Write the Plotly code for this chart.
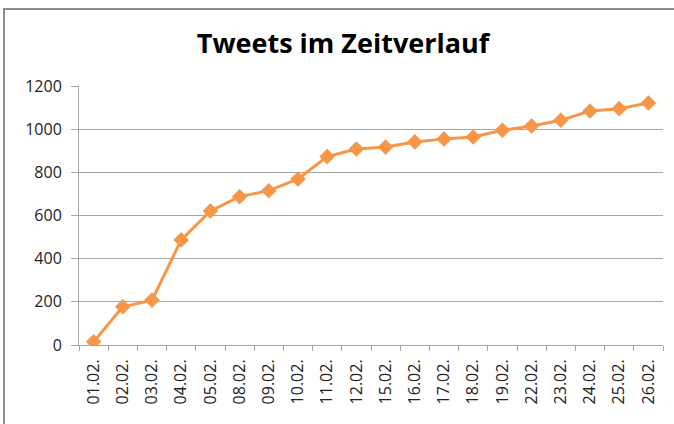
import plotly.graph_objects as go

dates = ["01.02.", "02.02.", "03.02.", "04.02.", "05.02.", "08.02.", "09.02.", "10.02.",
         "11.02.", "12.02.", "15.02.", "16.02.", "17.02.", "18.02.", "19.02.", "22.02.",
         "23.02.", "24.02.", "25.02.", "26.02."]
tweets = [15, 177, 208, 487, 621, 687, 715, 769, 873, 908, 917, 941, 955, 964, 995,
          1015, 1041, 1084, 1095, 1121]
y_ticks = [0, 200, 400, 600, 800, 1000, 1200]

W, H = 674, 424
L, R, T, B = 79, 11, 86, 79
pw, ph = W - L - R, H - T - B
FONT = "Open Sans, Lato, Liberation Sans, sans-serif"

fig = go.Figure()
fig.add_trace(go.Scatter(
    x=dates, y=tweets, mode="lines+markers",
    line=dict(color="#F79646", width=3),
    marker=dict(symbol="diamond", size=12, color="#F79646"),
    showlegend=False,
))

def px_x(p):
    return (p - L) / pw

def px_y(p):
    return (H - B - p) / ph

fig.update_layout(
    width=W, height=H,
    margin=dict(l=L, r=R, t=T, b=B, autoexpand=False),
    paper_bgcolor="white", plot_bgcolor="white",
    font=dict(family=FONT, color="#222222", size=15),
    title=dict(text="<b>Tweets im Zeitverlauf</b>", x=343 / W, xanchor="center",
               y=1 - 44 / H, yanchor="middle",
               font=dict(size=27, color="black", family=FONT)),
    xaxis=dict(
        type="category", showgrid=False, showline=True, linecolor="#a6a6a6", linewidth=1,
        ticks="outside", tickson="boundaries", ticklen=5, tickcolor="#a6a6a6",
        tickangle=-90, tickfont=dict(size=16, color="#222222"), ticklabelstandoff=7,
        range=[-0.5, len(dates) - 0.5], fixedrange=True,
    ),
    yaxis=dict(
        range=[0, 1200], tickvals=y_ticks, showgrid=True, gridcolor="#a6a6a6", gridwidth=1,
        showline=True, linecolor="#a6a6a6", linewidth=1, ticks="outside", ticklen=7,
        tickcolor="#a6a6a6", tickfont=dict(size=16, color="#222222"), ticklabelstandoff=6,
        zeroline=False, fixedrange=True,
    ),
    shapes=[dict(type="rect", xref="paper", yref="paper",
                 x0=px_x(4), x1=px_x(690), y0=px_y(440), y1=px_y(9),
                 line=dict(color="#8c8c8c", width=2), fillcolor="rgba(0,0,0,0)", layer="below")],
)

fig.write_html("out.html", config={"displayModeBar": False},
               post_script="document.body.style.margin='0';")
